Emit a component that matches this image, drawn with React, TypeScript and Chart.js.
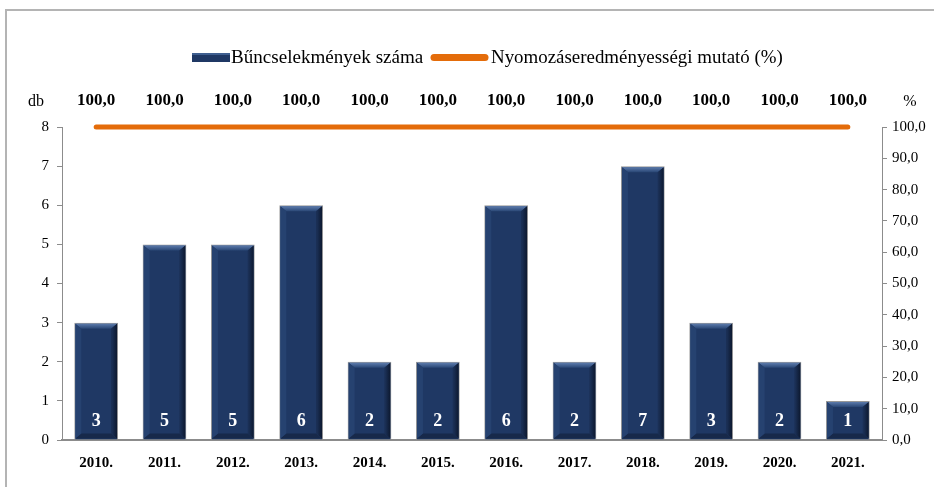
import React, { useEffect, useRef } from "react";
import { Chart, registerables } from "chart.js";

Chart.register(...registerables);

const categories = ["2010.", "2011.", "2012.", "2013.", "2014.", "2015.", "2016.", "2017.", "2018.", "2019.", "2020.", "2021."];
const crimeCounts = [3, 5, 5, 6, 2, 2, 6, 2, 7, 3, 2, 1];
const clearanceRate = [100, 100, 100, 100, 100, 100, 100, 100, 100, 100, 100, 100];
const barLabel = "Bűncselekmények száma";
const lineLabel = "Nyomozáseredményességi mutató (%)";
const leftUnit = "db";
const rightUnit = "%";

const FONT = "'Liberation Serif', 'Times New Roman', serif";
const BAR_COLOR = "#1f3864";
const LINE_COLOR = "#e46c0a";

const fmt = (v: number) => v.toFixed(1).replace(".", ",");

function stretchedText(ctx: any, text: string, x: number, y: number, sx: number) {
  ctx.save();
  ctx.translate(x, y);
  ctx.scale(sx, 1);
  ctx.fillText(text, 0, 0);
  ctx.restore();
}

const overlayPlugin = {
  id: "overlay",
  afterDatasetDraw(chart: any, args: any) {
    if (args.index !== 0) return;
    const ctx = chart.ctx;
    const meta = chart.getDatasetMeta(0);
    meta.data.forEach((bar: any) => {
      const w = bar.width;
      const l = bar.x - w / 2;
      const r = bar.x + w / 2;
      const t = bar.y;
      const b = bar.base;
      const bv = Math.min(6, (b - t) / 2);
      ctx.save();
      let g = ctx.createLinearGradient(0, t, 0, t + bv);
      g.addColorStop(0, "#6786b8");
      g.addColorStop(1, "#2a4775");
      ctx.fillStyle = g;
      ctx.beginPath();
      ctx.moveTo(l + 1, t + 1);
      ctx.lineTo(r - 1, t + 1);
      ctx.lineTo(r - 1 - bv, t + bv);
      ctx.lineTo(l + 1 + bv, t + bv);
      ctx.closePath();
      ctx.fill();
      g = ctx.createLinearGradient(r - bv, 0, r, 0);
      g.addColorStop(0, "#1a2f55");
      g.addColorStop(1, "#0a1428");
      ctx.fillStyle = g;
      ctx.beginPath();
      ctx.moveTo(r - 1, t + 1);
      ctx.lineTo(r - 1, b - 1);
      ctx.lineTo(r - 1 - bv, b - bv);
      ctx.lineTo(r - 1 - bv, t + bv);
      ctx.closePath();
      ctx.fill();
      ctx.fillStyle = "#17294a";
      ctx.beginPath();
      ctx.moveTo(l + 1, b - 1);
      ctx.lineTo(r - 1, b - 1);
      ctx.lineTo(r - 1 - bv, b - bv);
      ctx.lineTo(l + 1 + bv, b - bv);
      ctx.closePath();
      ctx.fill();
      ctx.fillStyle = "#264270";
      ctx.beginPath();
      ctx.moveTo(l + 1, t + 1);
      ctx.lineTo(l + 1 + bv, t + bv);
      ctx.lineTo(l + 1 + bv, b - bv);
      ctx.lineTo(l + 1, b - 1);
      ctx.closePath();
      ctx.fill();
      ctx.restore();
    });
  },
  afterDatasetsDraw(chart: any) {
    const ctx = chart.ctx;
    ctx.save();
    const meta0 = chart.getDatasetMeta(0);
    ctx.fillStyle = "#ffffff";
    ctx.font = `bold 18px ${FONT}`;
    ctx.textAlign = "center";
    ctx.textBaseline = "middle";
    meta0.data.forEach((bar: any, i: number) => {
      ctx.fillText(String(crimeCounts[i]), bar.x, bar.base - 18);
    });
    const meta1 = chart.getDatasetMeta(1);
    ctx.fillStyle = "#000000";
    ctx.font = `bold 17px ${FONT}`;
    meta1.data.forEach((pt: any, i: number) => {
      ctx.fillText(fmt(clearanceRate[i]), pt.x, pt.y - 26);
    });
    ctx.font = `16px ${FONT}`;
    ctx.fillText(leftUnit, 36, 102);
    ctx.fillText(rightUnit, 910, 102);
    // legend
    ctx.fillStyle = BAR_COLOR;
    ctx.fillRect(192, 53, 38, 9);
    ctx.fillStyle = "#3f5f90";
    ctx.fillRect(192, 53, 38, 2);
    ctx.strokeStyle = LINE_COLOR;
    ctx.lineWidth = 7;
    ctx.lineCap = "round";
    ctx.beginPath();
    ctx.moveTo(434, 57.5);
    ctx.lineTo(485, 57.5);
    ctx.stroke();
    ctx.fillStyle = "#000000";
    ctx.font = `18px ${FONT}`;
    ctx.textAlign = "left";
    stretchedText(ctx, barLabel, 231, 58, 1.06);
    stretchedText(ctx, lineLabel, 491, 58, 1.05);
    ctx.restore();
  },
};

export default function App() {
  const ref = useRef<HTMLCanvasElement | null>(null);
  useEffect(() => {
    document.body.style.margin = "0";
    const canvas = ref.current;
    if (!canvas) return;
    const chart = new Chart(canvas, {
      type: "bar",
      data: {
        labels: categories,
        datasets: [
          {
            type: "bar",
            label: barLabel,
            data: crimeCounts,
            backgroundColor: BAR_COLOR,
            borderColor: "rgba(140,140,140,0.9)",
            borderWidth: 1,
            yAxisID: "y",
            categoryPercentage: 1,
            barPercentage: 0.64,
            order: 2,
          },
          {
            type: "line",
            label: lineLabel,
            data: clearanceRate,
            borderColor: LINE_COLOR,
            backgroundColor: LINE_COLOR,
            borderWidth: 5,
            borderCapStyle: "round",
            pointRadius: 0,
            yAxisID: "y1",
            clip: false,
            order: 1,
          },
        ],
      },
      options: {
        responsive: false,
        animation: false,
        layout: { padding: { top: 127, left: 0, right: 0, bottom: 0 } },
        plugins: {
          legend: { display: false },
          tooltip: { enabled: false },
          title: { display: false },
        },
        scales: {
          x: {
            grid: { display: false },
            border: { display: true, color: "#8c8c8c", width: 2 },
            ticks: {
              color: "#000",
              font: { family: FONT, size: 15, weight: "bold" },
              padding: 6,
            },
            afterFit: (s: any) => {
              s.height = 47;
            },
          },
          y: {
            position: "left",
            min: 0,
            max: 8,
            ticks: {
              stepSize: 1,
              color: "#000",
              font: { family: FONT, size: 15 },
              padding: 8,
            },
            grid: { drawOnChartArea: false, drawTicks: true, tickLength: 5, color: "#8c8c8c" },
            border: { display: true, color: "#8c8c8c", width: 1 },
            afterFit: (s: any) => {
              s.width = 62;
            },
          },
          y1: {
            position: "right",
            min: 0,
            max: 100,
            ticks: {
              stepSize: 10,
              color: "#000",
              font: { family: FONT, size: 15 },
              padding: 5,
              callback: (v: any) => fmt(Number(v)),
            },
            grid: { drawOnChartArea: false, drawTicks: true, tickLength: 5, color: "#8c8c8c" },
            border: { display: true, color: "#8c8c8c", width: 1 },
            afterFit: (s: any) => {
              s.width = 52;
            },
          },
        },
      } as any,
      plugins: [overlayPlugin],
    });
    return () => chart.destroy();
  }, []);

  return (
    <div style={{ position: "relative", width: 934, height: 487, overflow: "hidden", background: "#fff" }}>
      <div
        style={{
          position: "absolute",
          left: 5,
          top: 9,
          width: 940,
          height: 490,
          borderLeft: "2px solid #b4b4b4",
          borderTop: "2px solid #b4b4b4",
          boxSizing: "border-box",
        }}
      />
      <canvas ref={ref} width={934} height={487} style={{ position: "absolute", left: 0, top: 0 }} />
    </div>
  );
}
